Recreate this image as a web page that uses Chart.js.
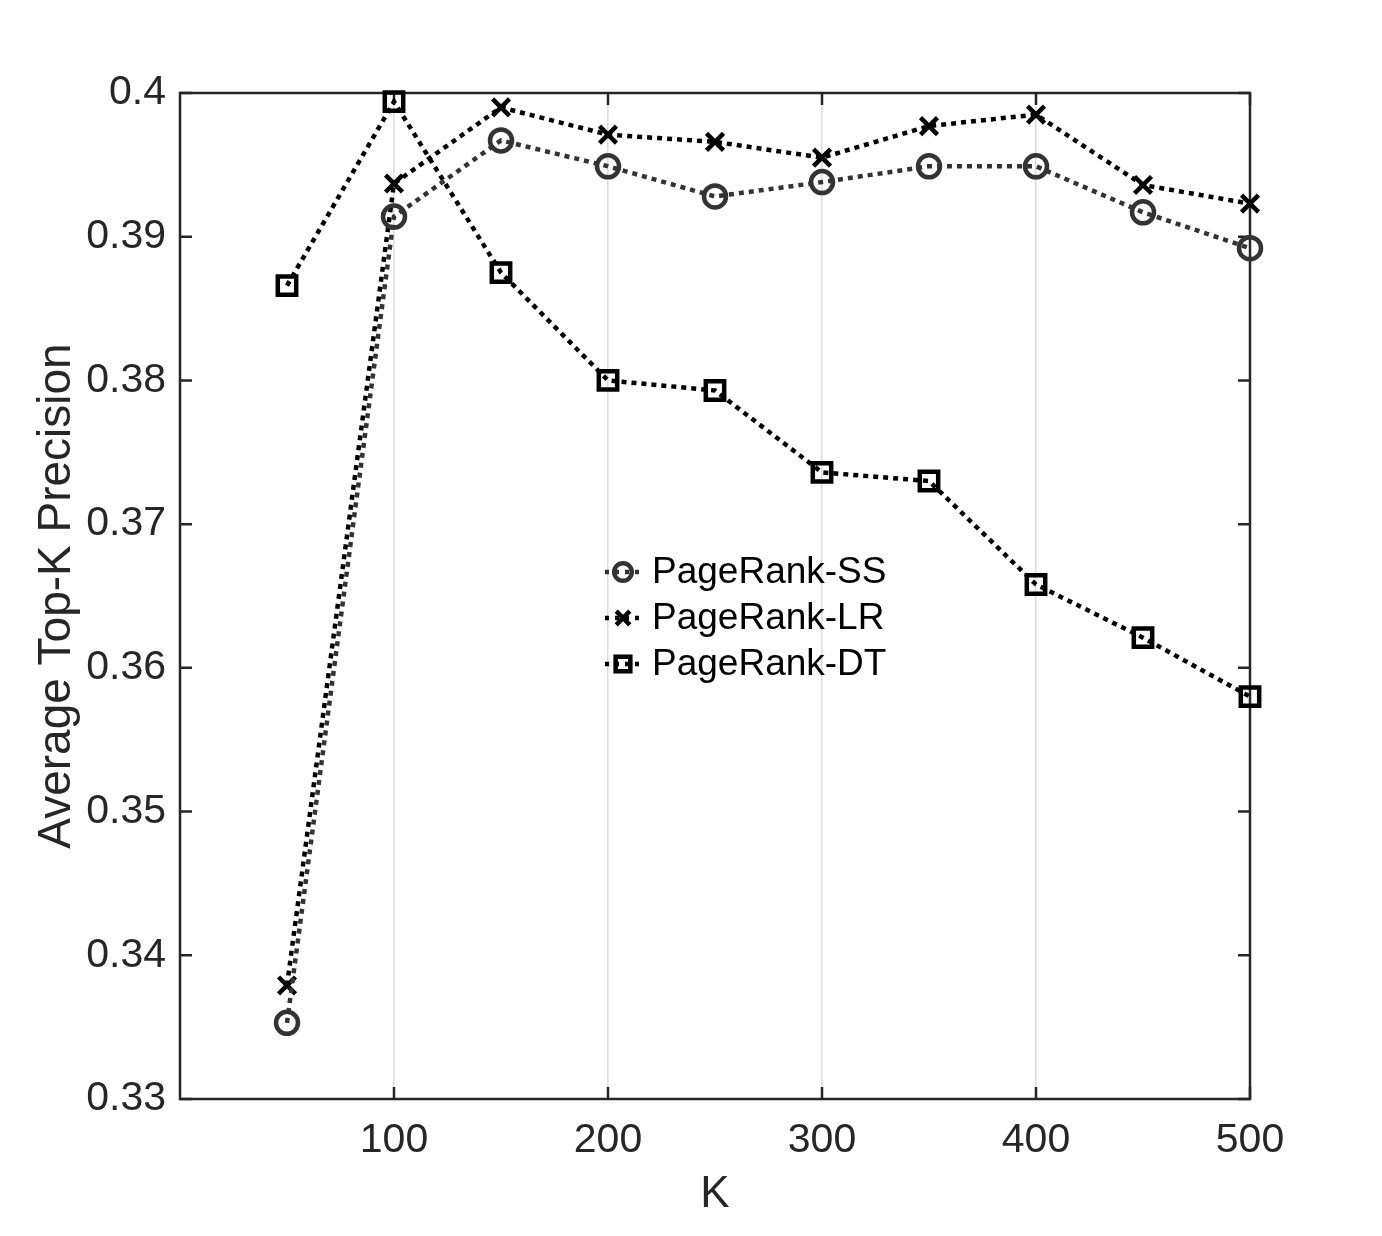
<!DOCTYPE html>
<html>
<head>
<meta charset="utf-8">
<script src="https://cdn.jsdelivr.net/npm/chart.js@4"></script>
<style>
  html, body { margin: 0; padding: 0; background: #fff; }
  #wrap { width: 1382px; height: 1236px; }
</style>
</head>
<body>
<div id="wrap"><canvas id="precisionChart"></canvas></div>
<script>
const kValues = [50, 100, 150, 200, 250, 300, 350, 400, 450, 500];
const pagerankSS = [0.3353, 0.3914, 0.3967, 0.3949, 0.3928, 0.3938, 0.3949, 0.3949, 0.3917, 0.3892];
const pagerankLR = [0.3379, 0.3937, 0.3990, 0.3971, 0.3966, 0.3955, 0.3977, 0.3985, 0.3936, 0.3923];
const pagerankDT = [0.3866, 0.3994, 0.3875, 0.3800, 0.3793, 0.3736, 0.3730, 0.3658, 0.3621, 0.3580];
const xTicks = [100, 200, 300, 400, 500];
const yTicks = [0.33, 0.34, 0.35, 0.36, 0.37, 0.38, 0.39, 0.4];

const FONT = "'Liberation Sans', Arial, Helvetica, sans-serif";
const AXIS_COLOR = '#262626';

function toPoints(values) {
    return kValues.map((k, i) => ({ x: k, y: values[i] }));
}

// box round the plot with inward ticks on all four sides
const boxPlugin = {
    id: 'box',
    beforeDatasetsDraw(chart) {
        const ctx = chart.ctx;
        const a = chart.chartArea;
        const xs = chart.scales.x, ys = chart.scales.y;
        const tl = 12;
        ctx.save();
        ctx.strokeStyle = AXIS_COLOR;
        ctx.lineWidth = 2.5;
        ctx.strokeRect(a.left, a.top, a.right - a.left, a.bottom - a.top);
        ctx.beginPath();
        xTicks.forEach(v => {
            const px = xs.getPixelForValue(v);
            ctx.moveTo(px, a.bottom); ctx.lineTo(px, a.bottom - tl);
            ctx.moveTo(px, a.top); ctx.lineTo(px, a.top + tl);
        });
        yTicks.forEach(v => {
            const py = ys.getPixelForValue(v);
            ctx.moveTo(a.left, py); ctx.lineTo(a.left + tl, py);
            ctx.moveTo(a.right, py); ctx.lineTo(a.right - tl, py);
        });
        ctx.stroke();
        ctx.restore();
    }
};

// legend inside the axes
const innerLegend = {
    id: 'innerLegend',
    afterDatasetsDraw(chart) {
        const ctx = chart.ctx;
        const x0 = 605, y0 = 572, rowH = 46;
        ctx.save();
        chart.data.datasets.forEach((ds, i) => {
            const y = y0 + i * rowH;
            ctx.strokeStyle = ds.borderColor;
            ctx.lineWidth = 4.5;
            ctx.setLineDash([4, 6]);
            ctx.beginPath();
            ctx.moveTo(x0, y); ctx.lineTo(x0 + 38, y);
            ctx.stroke();
            ctx.setLineDash([]);
            ctx.fillStyle = 'rgba(0,0,0,0)';
            Chart.helpers.drawPoint(ctx, {
                pointStyle: ds.pointStyle,
                radius: ds.pointRadius * 0.8,
                borderWidth: 5
            }, x0 + 18, y);
            ctx.fillStyle = '#000';
            ctx.font = '37px ' + FONT;
            ctx.textBaseline = 'middle';
            ctx.textAlign = 'left';
            ctx.fillText(ds.label, x0 + 47, y + 1);
        });
        ctx.restore();
    }
};

const lineStyle = {
    showLine: true,
    borderWidth: 4.5,
    borderDash: [5, 5],
    borderCapStyle: 'butt',
    pointBorderWidth: 4.5,
    pointBackgroundColor: 'rgba(0,0,0,0)',
    tension: 0,
    clip: false
};

const ctx = document.getElementById('precisionChart').getContext('2d');
const precisionChart = new Chart(ctx, {
    type: 'scatter',
    data: {
        datasets: [
            Object.assign({
                label: 'PageRank-SS',
                data: toPoints(pagerankSS),
                borderColor: '#333333',
                pointBorderColor: '#333333',
                pointStyle: 'circle',
                pointRadius: 11
            }, lineStyle),
            Object.assign({
                label: 'PageRank-LR',
                data: toPoints(pagerankLR),
                borderColor: '#000000',
                pointBorderColor: '#000000',
                pointStyle: 'crossRot',
                pointRadius: 12
            }, lineStyle),
            Object.assign({
                label: 'PageRank-DT',
                data: toPoints(pagerankDT),
                borderColor: '#000000',
                pointBorderColor: '#000000',
                pointStyle: 'rect',
                pointRadius: 13
            }, lineStyle)
        ]
    },
    options: {
        responsive: true,
        maintainAspectRatio: false,
        animation: false,
        layout: { padding: { top: 93, right: 132, left: 0, bottom: 0 } },
        plugins: {
            legend: { display: false },
            tooltip: { enabled: false }
        },
        scales: {
            x: {
                type: 'linear',
                min: 0,
                max: 500,
                afterFit: scale => { scale.height = 137; },
                afterBuildTicks: scale => { scale.ticks = xTicks.map(v => ({ value: v })); },
                border: { display: false },
                grid: {
                    drawTicks: false,
                    color: '#dcdcdc',
                    lineWidth: 1.5
                },
                ticks: {
                    padding: 17,
                    color: AXIS_COLOR,
                    font: { family: FONT, size: 41 },
                    maxRotation: 0
                },
                title: {
                    display: true,
                    text: 'K',
                    color: AXIS_COLOR,
                    font: { family: FONT, size: 44 },
                    padding: { top: 0, bottom: 15 }
                }
            },
            y: {
                min: 0.33,
                max: 0.4,
                afterFit: scale => { scale.width = 180; },
                afterBuildTicks: scale => { scale.ticks = yTicks.map(v => ({ value: v })); },
                border: { display: false },
                grid: { display: false, drawTicks: false },
                ticks: {
                    padding: 14,
                    color: AXIS_COLOR,
                    font: { family: FONT, size: 41 },
                    callback: v => String(Math.round(v * 100) / 100)
                },
                title: {
                    display: true,
                    text: 'Average Top-K Precision',
                    color: AXIS_COLOR,
                    font: { family: FONT, size: 46 },
                    padding: { top: 30, bottom: 0 }
                }
            }
        }
    },
    plugins: [boxPlugin, innerLegend]
});
</script>
</body>
</html>
